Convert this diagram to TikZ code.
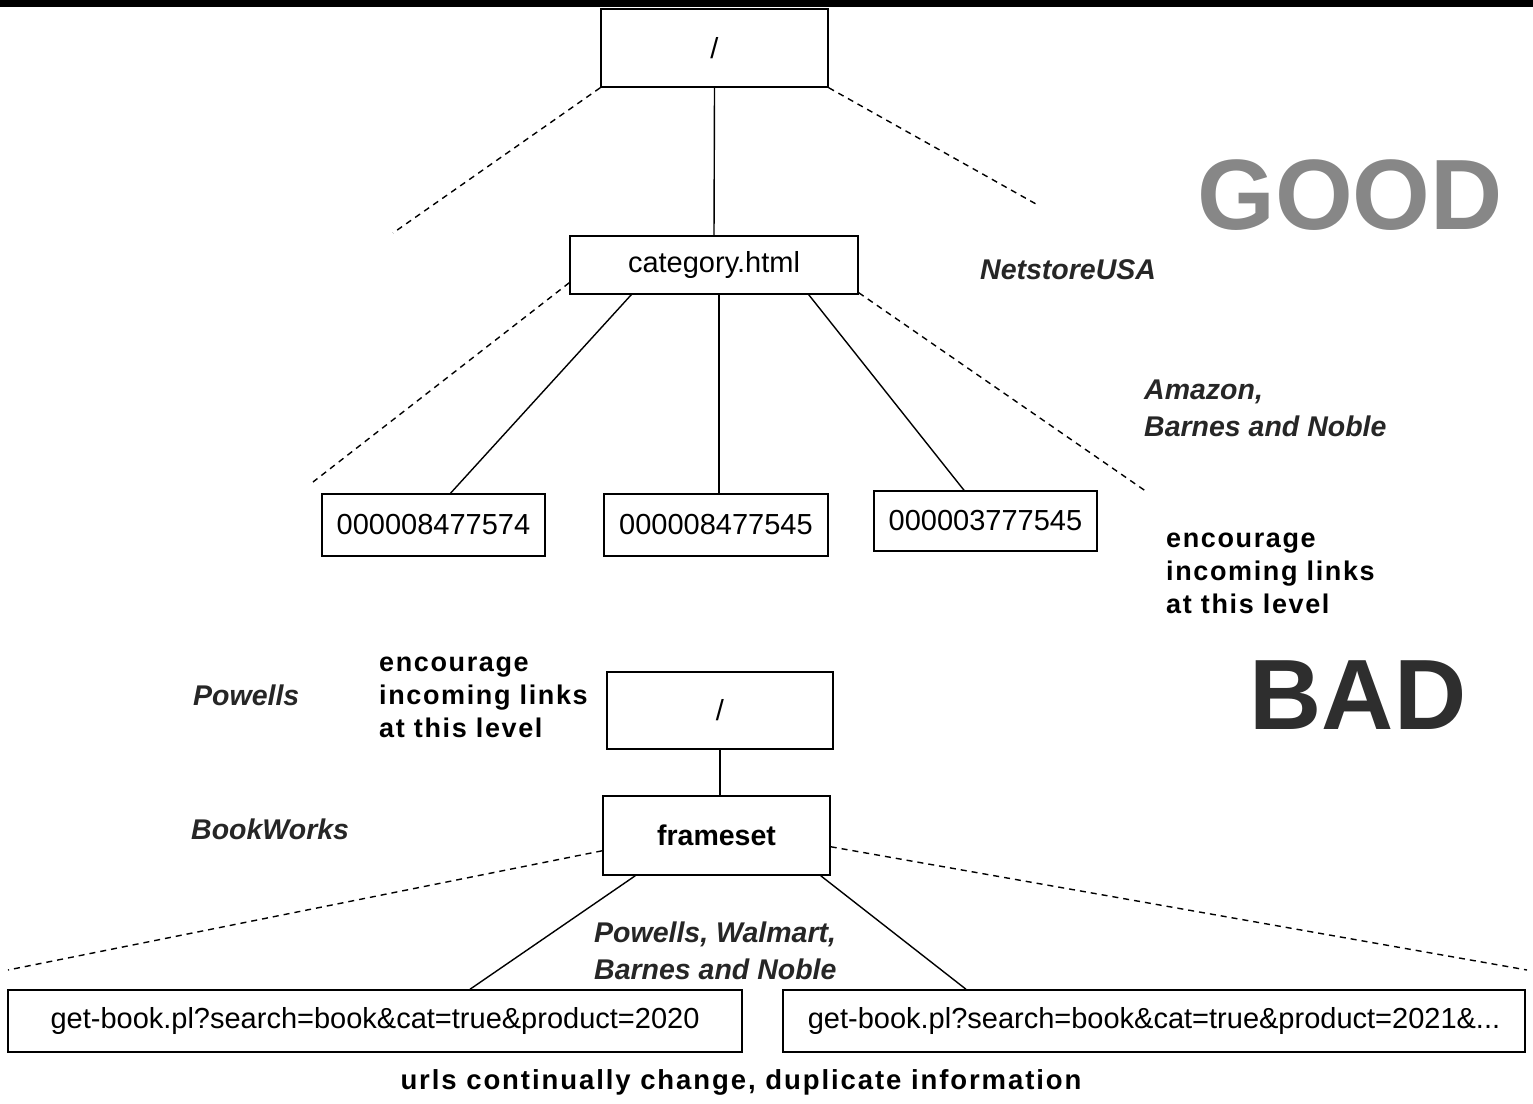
\documentclass[tikz,border=0pt]{standalone}
\usepackage{fontspec}
\setmainfont{Liberation Sans}
\usetikzlibrary{calc}
\begin{document}
\begin{tikzpicture}[x=1pt,y=-1pt,
  box/.style={draw,line width=1.5pt,rectangle,inner sep=0pt,font=\fontsize{29}{33}\selectfont},
  solidlink/.style={line width=1.4pt},
  dashlink/.style={line width=1.4pt,dash pattern=on 6pt off 5pt},
  site/.style={inner sep=0pt,align=left,text=black!85,font=\fontsize{28.5}{37}\selectfont\bfseries\itshape},
  note/.style={inner sep=0pt,align=left,font=\fontsize{27}{33}\selectfont\bfseries\addfontfeatures{LetterSpace=6}},
  big/.style={inner sep=0pt,font=\fontsize{100}{110}\selectfont\bfseries}
]
\useasboundingbox (0,0) rectangle (1533,1103);
\fill[black] (0,0) rectangle (1533,7);

% GOOD tree
\node[box,minimum width=227pt,minimum height=78pt] (root) at (714.5,48) {/};
\node[box,minimum width=288pt,minimum height=58pt] (cat) at (714,265) {category.html};
\node[box,minimum width=223pt,minimum height=62pt] (n1) at (433.5,525) {000008477574};
\node[box,minimum width=224pt,minimum height=62pt] (n2) at (716,525) {000008477545};
\node[box,minimum width=223pt,minimum height=60pt] (n3) at (985.5,521) {000003777545};

\coordinate (d1) at (393,233);
\coordinate (d2) at (1036,204);
\coordinate (d3) at (313,482);
\coordinate (d4) at (1147,492);

\draw[solidlink] (root.south) -- (cat.north);
\draw[dashlink] (root.south west) -- (d1);
\draw[dashlink] (root.south east) -- (d2);
\draw[dashlink] ([yshift=12pt]cat.south west) -- (d3);
\draw[dashlink] ([yshift=2pt]cat.south east) -- (d4);
\draw[solidlink] ([xshift=62pt]cat.south west) -- ([xshift=17pt]n1.north);
\draw[solidlink] ([xshift=3pt]n2.north) -- ([xshift=3pt]n2.north |- cat.south);
\draw[solidlink] ([xshift=-50pt]cat.south east) -- ([xshift=-21.5pt]n3.north);

\node[big,text=black!47] (good) at (1350,195) {GOOD};
\node[site,anchor=west] (netstore) at (980,270) {NetstoreUSA};
\node[site,anchor=north west] (amazon) at (1144,380) {Amazon,\\Barnes and Noble};
\node[note,anchor=north west] (enc1) at (1166,533) {encourage\\incoming links\\at this level};

% BAD tree
\node[big,text=black!82] (bad) at (1358,695) {BAD};
\node[site,anchor=west] (powells) at (193,695) {Powells};
\node[note,anchor=north west] (enc2) at (379,657) {encourage\\incoming links\\at this level};
\node[site,anchor=west] (bookworks) at (191,829) {BookWorks};

\node[box,minimum width=226pt,minimum height=77pt] (root2) at (720,710.5) {/};
\node[box,minimum width=227pt,minimum height=79pt,font=\fontsize{28.5}{33}\selectfont\bfseries] (frame) at (716.5,835.5) {frameset};
\node[box,minimum width=734pt,minimum height=62pt] (g1) at (375,1021) {get-book.pl?search=book\&cat=true\&product=2020};
\node[box,minimum width=742pt,minimum height=62pt] (g2) at (1154,1021) {get-book.pl?search=book\&cat=true\&product=2021\&...};

\coordinate (e1) at (8,970);
\coordinate (e2) at (1527,970);
\draw[solidlink] (root2.south) -- (root2.south |- frame.north);
\draw[dashlink] ([yshift=25pt]frame.south west) -- (e1);
\draw[dashlink] ([yshift=29pt]frame.south east) -- (e2);
\draw[solidlink] ([xshift=33pt]frame.south west) -- ([xshift=95pt]g1.north);
\draw[solidlink] ([xshift=-10pt]frame.south east) -- ([xshift=-188pt]g2.north);

\node[site,anchor=north west] (walmart) at (594,922) {Powells, Walmart,\\Barnes and Noble};
\node[note,anchor=center,font=\fontsize{27.5}{33}\selectfont\bfseries\addfontfeatures{LetterSpace=7}] (urls) at (741,1082) {urls continually change, duplicate information};
\end{tikzpicture}
\end{document}
